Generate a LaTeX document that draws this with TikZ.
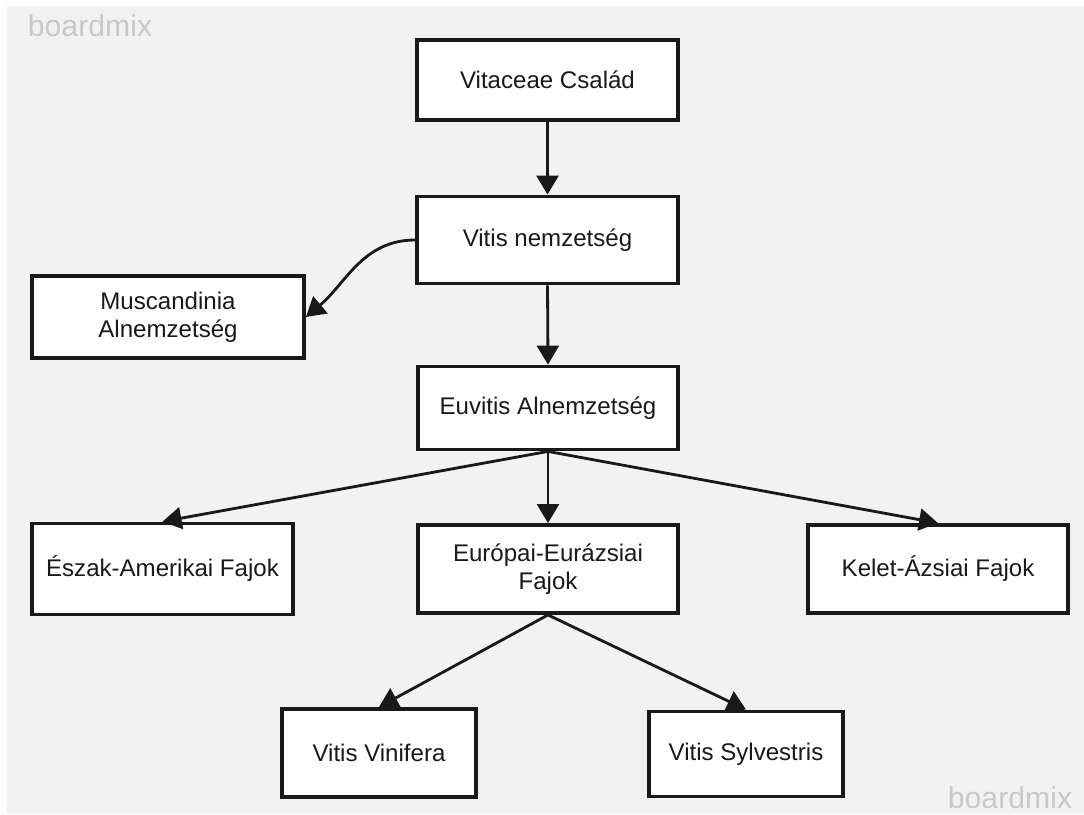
\documentclass[tikz,border=0pt]{standalone}
\usepackage{fontspec}
\setmainfont{Liberation Sans}
\usetikzlibrary{arrows.meta}
\definecolor{canvas}{HTML}{F2F2F2}
\definecolor{mark}{HTML}{C8C8C8}
\begin{document}
\begin{tikzpicture}[x=0.02cm, y=-0.02cm,
    box/.style={draw=black!90, fill=white, line width=2.2pt, align=center,
                minimum height=1.7cm, inner sep=0pt, text=black!90,
                font=\fontsize{13.7}{16}\selectfont},
    arr/.style={line width=1.6pt, draw=black!90,
                -{Triangle[width=0.44cm, length=0.38cm]}},
    wmark/.style={text=mark, font=\fontsize{17.2}{20}\selectfont}]
    \useasboundingbox (0,0) rectangle (1084,814);
    \fill[canvas] (7,6) rectangle (1084,814);
    \node[wmark] (wm1) at (  90,  26) {boardmix};
    \node[wmark] (wm2) at (1010, 798) {boardmix};
    \node[box, minimum width=5.22cm, minimum height=1.60cm] (vit)  at (547.5,  80) {Vitaceae Család};
    \node[box, minimum width=5.22cm, minimum height=1.74cm] (nem)  at (547.5, 240) {Vitis nemzetség};
    \node[box, minimum width=5.44cm, minimum height=1.64cm] (musc) at (168.0, 317) {Muscandinia\\Alnemzetség};
    \node[box, minimum width=5.20cm, minimum height=1.66cm] (euv)  at (548.0, 408) {Euvitis Alnemzetség};
    \node[box, minimum width=5.22cm, minimum height=1.82cm] (esz)  at (162.5, 569) {Észak-Amerikai Fajok};
    \node[box, minimum width=5.20cm, minimum height=1.76cm] (eur)  at (548.0, 569) {Európai-Eurázsiai\\Fajok};
    \node[box, minimum width=5.20cm, minimum height=1.76cm] (kel)  at (938.0, 569) {Kelet-Ázsiai Fajok};
    \node[box, minimum width=3.88cm, minimum height=1.76cm] (vin)  at (379.0, 753) {Vitis Vinifera};
    \node[box, minimum width=3.88cm, minimum height=1.70cm] (syl)  at (746.0, 754) {Vitis Sylvestris};
    \draw[arr] (vit.south) to (nem.north);
    \draw[arr] (nem.west)  to[out=180, in=40] (musc.east);
    \draw[arr] (nem.south) to (euv.north);
    \draw[arr] (euv.south) to (esz.north);
    \draw[arr] (euv.south) to (eur.north);
    \draw[arr] (euv.south) to (kel.north);
    \draw[arr] (eur.south) to (vin.north);
    \draw[arr] (eur.south) to (syl.north);
\end{tikzpicture}
\end{document}
